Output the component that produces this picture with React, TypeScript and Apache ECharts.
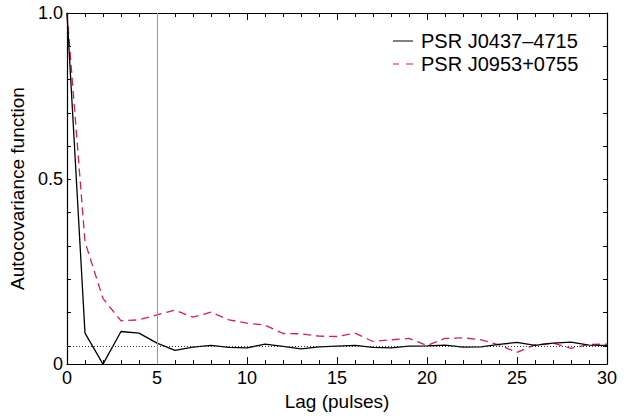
import React, { useEffect, useRef } from "react";
import * as echarts from "echarts";

const lags = [0,1,2,3,4,5,6,7,8,9,10,11,12,13,14,15,16,17,18,19,20,21,22,23,24,25,26,27,28,29,30];
const j0437 = [1.0,0.038,-0.055,0.043,0.038,0.008,-0.014,-0.004,0.001,-0.005,-0.006,0.005,-0.002,-0.009,-0.003,-0.001,0.001,-0.005,-0.006,-0.001,0.0,0.002,-0.004,-0.003,0.004,0.010,0.001,0.008,0.011,0.002,0.001];
const j0953 = [1.0,0.312,0.142,0.075,0.078,0.093,0.107,0.086,0.101,0.078,0.068,0.062,0.037,0.036,0.029,0.028,0.038,0.013,0.018,0.022,0.001,0.022,0.024,0.018,0.003,-0.020,0.003,0.008,-0.008,0.004,0.005];
const seriesNames = ["PSR J0437\u20134715", "PSR J0953+0755"];
const yTickValues = [0,0.1,0.2,0.3,0.4,0.5,0.6,0.7,0.8,0.9,1.0];
const yMin = -0.055;
const yLabelValues = [yMin, 0.5, 1.0];
const yLabelTexts = ["0", "0.5", "1.0"];

const FONT = "'Liberation Sans', Arial, Helvetica, sans-serif";
const RED = "#d81b60";

export default function App() {
  const ref = useRef<HTMLDivElement>(null);
  useEffect(() => {
    if (!ref.current) return;
    const chart = echarts.init(ref.current, null, { renderer: "svg" });
    const axisLine = { show: true, onZero: false, lineStyle: { color: "#000", width: 1.2 } };
    const xBase = {
      type: "value" as const,
      min: 0,
      max: 30,
      interval: 5,
      axisLine,
      splitLine: { show: false },
      axisTick: { show: true, inside: true, length: 7, lineStyle: { color: "#000" } },
      minorTick: { show: true, splitNumber: 5, length: 4, lineStyle: { color: "#000" } },
    };
    const yBase = {
      type: "value" as const,
      min: yMin,
      max: 1.0,
      axisLine,
      splitLine: { show: false },
      axisTick: { show: true, inside: true, length: 4, customValues: yTickValues, lineStyle: { color: "#000" } },
    };
    chart.setOption({
      animation: false,
      textStyle: { fontFamily: FONT },
      grid: { left: 67, right: 26, top: 13, bottom: 50, containLabel: false },
      legend: {
        data: [
          { name: seriesNames[0], icon: "path://M0,0h20v1h-20z" },
          { name: seriesNames[1], icon: "path://M0,0h6v1h-6z M13,0h7v1h-7z" },
        ],
        orient: "vertical",
        left: 393,
        top: 31,
        padding: 0,
        itemWidth: 20,
        itemHeight: 1.4,
        itemGap: 3,
        textStyle: { fontSize: 20, color: "#000", fontFamily: FONT, padding: [0, 0, 0, 3] },
      },
      xAxis: [
        {
          ...xBase,
          position: "bottom",
          name: "Lag (pulses)",
          nameLocation: "middle",
          nameGap: 27,
          nameTextStyle: { fontSize: 19, color: "#000", fontFamily: FONT },
          axisLabel: { show: true, fontSize: 18, color: "#000", margin: 5, fontFamily: FONT },
        },
        { ...xBase, position: "top", axisLabel: { show: false } },
      ],
      yAxis: [
        {
          ...yBase,
          position: "left",
          name: "Autocovariance function",
          nameLocation: "middle",
          nameGap: 36,
          nameTextStyle: { fontSize: 19, color: "#000", fontFamily: FONT },
          axisLabel: {
            show: true,
            fontSize: 18,
            color: "#000",
            margin: 4,
            fontFamily: FONT,
            customValues: yLabelValues,
            formatter: (v: number) => {
              const i = yLabelValues.findIndex((u) => Math.abs(u - v) < 1e-6);
              return i >= 0 ? yLabelTexts[i] : "";
            },
          },
        },
        { ...yBase, position: "right", axisLabel: { show: false } },
      ],
      series: [
        {
          name: seriesNames[0],
          type: "line",
          data: lags.map((l, i) => [l, j0437[i]]),
          symbol: "none",
          lineStyle: { color: "#000", width: 1.3, type: "solid" },
          itemStyle: { color: "#000" },
          z: 3,
          markLine: {
            silent: true,
            symbol: "none",
            label: { show: false },
            data: [
              { yAxis: 0, lineStyle: { color: "#333", type: [1, 2], width: 1 } },
              { xAxis: 5, lineStyle: { color: "#999", type: "solid", width: 1 } },
            ],
          },
        },
        {
          name: seriesNames[1],
          type: "line",
          data: lags.map((l, i) => [l, j0953[i]]),
          symbol: "none",
          lineStyle: { color: RED, width: 1.3, type: [8, 5] },
          itemStyle: { color: RED },
          z: 2,
        },
      ],
    });
    return () => chart.dispose();
  }, []);
  return <div ref={ref} style={{ width: 633, height: 416, position: "absolute", left: 0, top: 0 }} />;
}
